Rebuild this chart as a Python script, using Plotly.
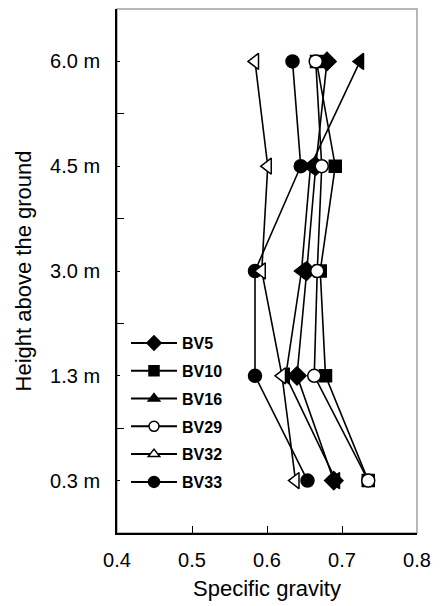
import plotly.graph_objects as go

heights = ["0.3 m", "1.3 m", "3.0 m", "4.5 m", "6.0 m"]
bv5 = [0.689, 0.640, 0.653, 0.665, 0.680]
bv10 = [0.735, 0.678, 0.671, 0.691, 0.666]
bv16 = [0.692, 0.625, 0.646, 0.658, 0.724]
bv29 = [0.735, 0.663, 0.667, 0.673, 0.665]
bv32 = [0.638, 0.620, 0.593, 0.601, 0.584]
bv33 = [0.654, 0.584, 0.584, 0.645, 0.634]

ypos = list(range(len(heights)))
FONT = "Liberation Sans, Arial, sans-serif"

series = [
    ("BV16", bv16, "triangle-left", "triangle-up", "black", 14, 10),
    ("BV5", bv5, "diamond", "diamond", "black", 14, 11),
    ("BV10", bv10, "square", "square", "black", 12, 10),
    ("BV29", bv29, "circle", "circle", "white", 13, 10),
    ("BV33", bv33, "circle", "circle", "black", 13, 11),
    ("BV32", bv32, "triangle-left", "triangle-up", "white", 14, 10),
]
legend_order = ["BV5", "BV10", "BV16", "BV29", "BV32", "BV33"]

fig = go.Figure()
for name, vals, sym, lsym, col, size, lsize in series:
    fig.add_trace(go.Scatter(
        x=vals, y=ypos, mode="lines+markers", name=name, showlegend=False,
        line=dict(color="black", width=1.6),
        marker=dict(symbol=sym, size=size, color=col, line=dict(color="black", width=1.5)),
    ))

info = {s[0]: s for s in series}
for name in legend_order:
    _, _, _, lsym, col, _, lsize = info[name]
    fig.add_trace(go.Scatter(
        x=[None], y=[None], mode="lines+markers", name="<b>" + name + "</b>",
        legendgroup=name,
        line=dict(color="black", width=2),
        marker=dict(symbol=lsym, size=lsize, color=col, line=dict(color="black", width=1.5)),
    ))

fig.update_layout(
    width=437, height=598,
    margin=dict(l=109, r=28, t=1, b=73),
    plot_bgcolor="white", paper_bgcolor="white",
    font=dict(family=FONT, color="black", size=20),
    showlegend=True,
    legend=dict(x=0.03, y=0.395, xanchor="left", yanchor="top",
                bgcolor="rgba(0,0,0,0)", borderwidth=0,
                font=dict(size=16, family=FONT, color="black"),
                traceorder="grouped", tracegroupgap=4, itemwidth=46),
    shapes=[dict(type="rect", xref="paper", yref="paper", x0=0, x1=1, y0=0, y1=1,
                 line=dict(color="#a0a0a0", width=1.5), layer="below")],
)
fig.update_xaxes(
    range=[0.4, 0.8], tickvals=[0.4, 0.5, 0.6, 0.7, 0.8], tickformat=".1f",
    ticks="inside", ticklen=7, tickwidth=1.2, tickcolor="black",
    showline=True, linecolor="black", linewidth=1.8,
    showgrid=False, zeroline=False, ticklabelstandoff=8,
    title=dict(text="Specific gravity", font=dict(size=22), standoff=11),
)
fig.update_yaxes(
    range=[-0.5, 4.5], tickvals=ypos, ticktext=heights,
    ticks="inside", ticklen=3, tickwidth=1.2, tickcolor="black",
    minor=dict(tickvals=[0.5, 1.5, 2.5, 3.5], ticks="inside", ticklen=7,
               tickwidth=1.2, tickcolor="black", showgrid=False),
    showline=True, linecolor="black", linewidth=1.8,
    showgrid=False, zeroline=False, ticklabelstandoff=11,
    title=dict(text="Height above the ground", font=dict(size=22), standoff=12),
)
fig.write_html("out.html")
